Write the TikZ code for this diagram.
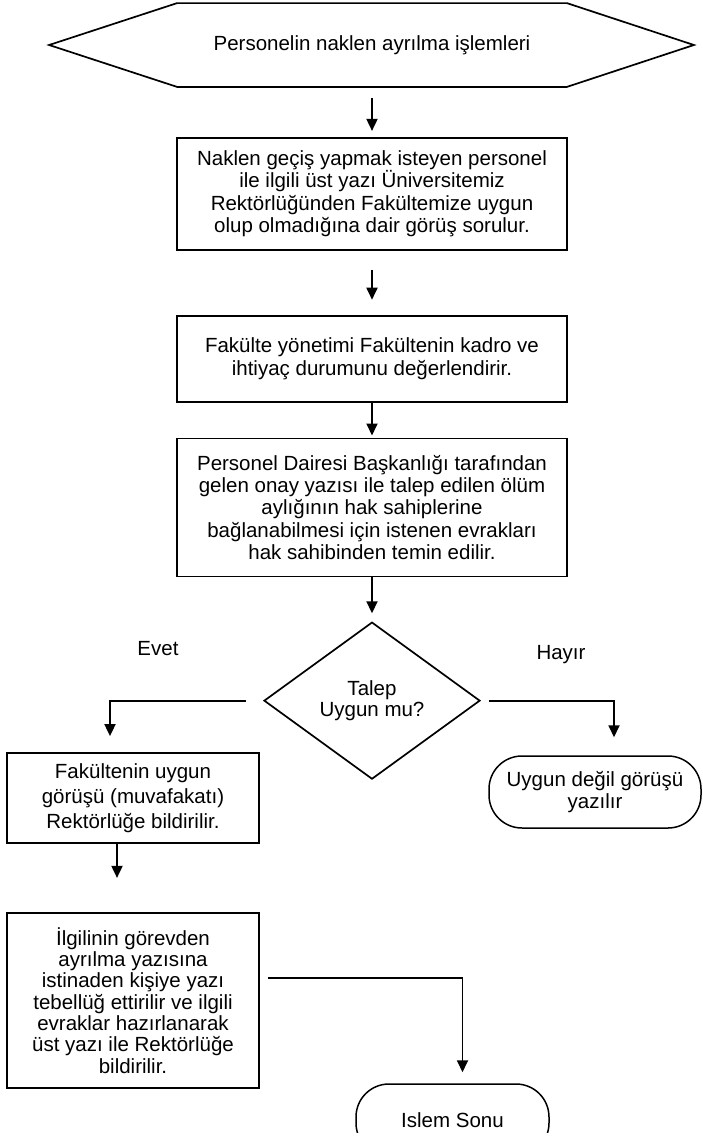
\documentclass[tikz,border=0pt]{standalone}
\usepackage{fontspec}
\setmainfont{Liberation Sans}
\usetikzlibrary{arrows.meta,shapes,positioning}

\tikzset{
  yazi/.style={align=center, inner sep=0pt, font=\fontsize{20.5}{22.3}\selectfont},
  kutu/.style={yazi, draw, line width=1.8pt},
  karar/.style={yazi, diamond, draw, line width=1.7pt, font=\fontsize{20.5}{20.5}\selectfont},
  bitis/.style={yazi, draw, line width=1.5pt, rounded corners=33pt}
}

\begin{document}
\begin{tikzpicture}[x=1pt,y=1pt,->,>={Triangle[width=11pt,length=12pt]},line width=1.8pt,auto]
  \useasboundingbox (0,0) rectangle (702,-1144);

  \node[yazi,minimum width=388pt,minimum height=82pt] (basla) at (372,-45) {Personelin naklen ayrılma işlemleri};
  \draw[-,line width=1.7pt] (basla.north west) -- (basla.north east) -- ([xshift=127pt]basla.east)
     -- (basla.south east) -- (basla.south west) -- ([xshift=-128pt]basla.west) -- cycle;

  \node[kutu,minimum width=390pt,minimum height=112pt] (gorus) [below=50pt of basla]
     {Naklen geçiş yapmak isteyen personel\\ile ilgili üst yazı Üniversitemiz\\Rektörlüğünden Fakültemize uygun\\olup olmadığına dair görüş sorulur.};
  \node[kutu,minimum width=390pt,minimum height=86pt] (kadro) [below=64pt of gorus]
     {Fakülte yönetimi Fakültenin kadro ve\\ihtiyaç durumunu değerlendirir.};
  \node[kutu,minimum width=390pt,minimum height=138pt] (evrak) [below=35pt of kadro]
     {Personel Dairesi Başkanlığı tarafından\\gelen onay yazısı ile talep edilen ölüm\\aylığının hak sahiplerine\\bağlanabilmesi için istenen evrakları\\hak sahibinden temin edilir.};
  \node[karar,minimum width=216pt,minimum height=157pt] (talep) [below=44pt of evrak] {Talep\\Uygun mu?};

  \node[yazi] (evet) at (158,-649) {Evet};
  \node[yazi] (hayir) at (561,-655) {Hayır};

  \node[kutu,minimum width=252pt,minimum height=90pt,font=\fontsize{20.5}{25}\selectfont] (olumlu) at (133,-798)
     {Fakültenin uygun\\görüşü (muvafakatı)\\Rektörlüğe bildirilir.};
  \node[bitis,minimum width=212pt,minimum height=72pt] (olumsuz) at (595,-792) {Uygun değil görüşü\\yazılır};
  \node[kutu,minimum width=252pt,minimum height=175pt,font=\fontsize{20.5}{21.3}\selectfont] (tebellug) [below=68pt of olumlu]
     {İlgilinin görevden\\ayrılma yazısına\\istinaden kişiye yazı\\tebellüğ ettirilir ve ilgili\\evraklar hazırlanarak\\üst yazı ile Rektörlüğe\\bildirilir.};

  \begin{scope}
    \clip (0,0) rectangle (702,-1132);
    \node[bitis,minimum width=193pt,minimum height=72pt] (son) at (452.5,-1120) {Islem Sonu};
  \end{scope}

  \path
  (basla) edge[shorten <=11pt,shorten >=6pt] (gorus)
  (gorus) edge[shorten <=19pt,shorten >=15pt] (kadro)
  (kadro) edge[shorten >=2pt] (evrak)
  (evrak) edge[shorten >=8pt] (talep)
  ([xshift=-16pt]olumlu.south) edge[shorten >=34pt] ([xshift=-16pt]tebellug.north);

  \draw[shorten <=17pt,shorten >=16pt] (talep.west) -| ([xshift=-23pt]olumlu.north);
  \draw[shorten <=8pt,shorten >=18pt] (talep.east) -| ([xshift=19pt]olumsuz.north);
  \draw[shorten <=8pt,shorten >=11pt] ([yshift=22pt]tebellug.east) -| ([xshift=10pt]son.north);
\end{tikzpicture}
\end{document}
